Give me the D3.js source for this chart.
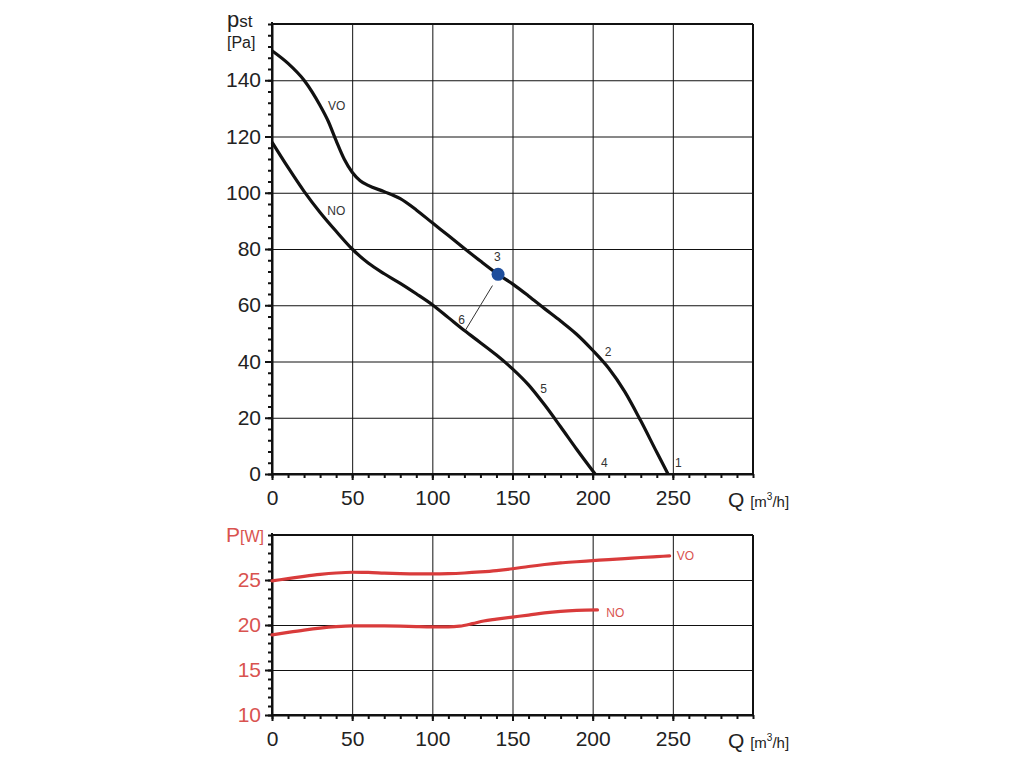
<!DOCTYPE html>
<html>
<head>
<meta charset="utf-8">
<script src="https://cdn.jsdelivr.net/npm/d3@7"></script>
<style>
  body { margin: 0; background: #fff; }
  svg { font-family: "Liberation Sans", Arial, sans-serif; }
  .grid line { stroke: #111; stroke-width: 1; }
  .grid path { display: none; }
  .axis path, .axis line { stroke: #111; stroke-width: 2; }
  .axis text { fill: #222; font-size: 21px; }
  .red text { fill: #d9534f; }
  .curve { fill: none; stroke: #111; stroke-width: 3.2; }
  .power { fill: none; stroke: #d93b3b; stroke-width: 3.2; stroke-linecap: round; }
  .lbl { font-size: 12px; fill: #333; }
</style>
</head>
<body>
<div id="chart"></div>
<script>
// pressure curves (Q in m3/h, p in Pa)
var voQ = [0, 10, 20, 30, 35, 40, 45, 50, 55, 60, 70, 80, 90, 100, 110, 120, 130, 140, 150, 160, 170, 180, 190, 200, 210, 220, 230, 240, 247];
var voP = [150.5, 146, 140, 131, 125.5, 118.5, 112, 107.3, 104.3, 102.6, 100.4, 97.9, 93.9, 89.3, 84.8, 80.2, 75.7, 71.4, 67.6, 63.3, 58.8, 54.4, 49.7, 44, 37.6, 29.3, 18.9, 7.7, 0];
var noQ = [0, 10, 20, 30, 40, 50, 60, 70, 80, 90, 100, 110, 120, 130, 140, 150, 160, 170, 180, 190, 201.5];
var noP = [118, 109, 100.5, 93, 86.3, 80, 75, 71.2, 67.8, 64.1, 60.2, 55.6, 51, 46.7, 42.3, 37.4, 31.7, 24.6, 16.8, 8.8, 0];

// power curves (P in W)
var voPwQ = [0, 10, 20, 30, 40, 50, 60, 70, 80, 90, 100, 110, 120, 130, 140, 150, 160, 170, 180, 190, 200, 210, 220, 230, 240, 248];
var voPw = [24.9, 25.15, 25.4, 25.62, 25.78, 25.86, 25.85, 25.76, 25.7, 25.67, 25.67, 25.7, 25.78, 25.9, 26.05, 26.25, 26.5, 26.72, 26.9, 27.03, 27.15, 27.27, 27.38, 27.5, 27.6, 27.68];
var noPwQ = [0, 10, 20, 30, 40, 50, 60, 70, 80, 90, 100, 110, 117, 125, 132, 140, 150, 160, 170, 180, 190, 203];
var noPw = [18.9, 19.18, 19.44, 19.66, 19.82, 19.9, 19.9, 19.9, 19.88, 19.83, 19.8, 19.8, 19.87, 20.15, 20.45, 20.65, 20.88, 21.1, 21.35, 21.52, 21.62, 21.67];

// operating points
var pointNames = ["1", "2", "3", "4", "5"];
var pointQ = [247, 200, 141, 201.5, 161];
var pointP = [0, 44, 71, 0, 31];

// line 6 (between point 3 and the NO curve)
var line6Q = [137.5, 120.5];
var line6P = [67, 51];

var qTicks = [0, 50, 100, 150, 200, 250];
var pTicks = [0, 20, 40, 60, 80, 100, 120, 140];
var wTicks = [10, 15, 20, 25];

var width = 1024, height = 768;
var svg = d3.select("#chart").append("svg")
    .attr("width", width).attr("height", height);

var left = 272, right = 753;
var x = d3.scaleLinear().domain([0, 300]).range([left, right]);
var y = d3.scaleLinear().domain([0, 160]).range([474, 24]);
var y2 = d3.scaleLinear().domain([10, 30]).range([715, 535]);

function zip(qs, vs) {
  return qs.map(function(q, i) { return [q, vs[i]]; });
}

function drawFrame(ys, yTicks, minorStep, red) {
  var d = ys.domain();
  var top = ys.range()[1], bottom = ys.range()[0];

  // grid
  svg.append("g").attr("class", "grid")
    .attr("transform", "translate(0," + bottom + ")")
    .call(d3.axisBottom(x).tickValues([50, 100, 150, 200, 250])
      .tickSize(-(bottom - top)).tickFormat(""));
  svg.append("g").attr("class", "grid")
    .attr("transform", "translate(" + left + ",0)")
    .call(d3.axisLeft(ys).tickValues(yTicks.slice(1))
      .tickSize(-(right - left)).tickFormat(""));

  // top and right border
  svg.append("line")
    .attr("x1", left).attr("x2", right).attr("y1", top).attr("y2", top)
    .style("stroke", "#111").style("stroke-width", 2);
  svg.append("line")
    .attr("x1", right).attr("x2", right).attr("y1", top).attr("y2", bottom)
    .style("stroke", "#111").style("stroke-width", 2);

  // minor ticks
  svg.append("g").attr("class", "axis")
    .attr("transform", "translate(" + left + ",0)")
    .call(d3.axisLeft(ys).tickValues(d3.range(d[0], d[1] + 0.01, minorStep))
      .tickSize(4).tickSizeOuter(0).tickFormat(""));
  svg.append("g").attr("class", "axis")
    .attr("transform", "translate(0," + bottom + ")")
    .call(d3.axisBottom(x).tickValues(d3.range(0, 301, 10))
      .tickSize(4).tickSizeOuter(0).tickFormat(""));

  // major ticks + labels
  var ya = svg.append("g").attr("class", "axis" + (red ? " red" : ""))
    .attr("transform", "translate(" + left + ",0)")
    .call(d3.axisLeft(ys).tickValues(yTicks).tickSize(7).tickPadding(4)
      .tickSizeOuter(0));
  ya.select(".domain").remove();
  var xa = svg.append("g").attr("class", "axis")
    .attr("transform", "translate(0," + bottom + ")")
    .call(d3.axisBottom(x).tickValues(qTicks).tickSize(6).tickPadding(10)
      .tickSizeOuter(0));
  xa.select(".domain").remove();

  // axis lines
  svg.append("line")
    .attr("x1", left).attr("x2", left).attr("y1", top - 2).attr("y2", bottom)
    .style("stroke", "#111").style("stroke-width", 2);
  svg.append("line")
    .attr("x1", left).attr("x2", right).attr("y1", bottom).attr("y2", bottom)
    .style("stroke", "#111").style("stroke-width", 2);

  // Q label
  var qt = svg.append("text")
    .attr("x", 728).attr("y", bottom + 33)
    .style("fill", "#222");
  qt.append("tspan").style("font-size", "21px").text("Q ");
  qt.append("tspan").style("font-size", "15px").text("[m");
  qt.append("tspan").style("font-size", "10px").attr("dy", -7).text("3");
  qt.append("tspan").style("font-size", "15px").attr("dy", 7).text("/h]");
}

drawFrame(y, pTicks, 4, false);
drawFrame(y2, wTicks, 1, true);

// pressure axis title
var pt = svg.append("text").attr("x", 227).attr("y", 27).style("fill", "#222");
pt.append("tspan").style("font-size", "22px").text("p");
pt.append("tspan").style("font-size", "17px").text("st");
svg.append("text").attr("x", 227).attr("y", 48)
  .style("font-size", "16px").style("fill", "#222").text("[Pa]");

// power axis title
var wt = svg.append("text").attr("x", 226).attr("y", 542).style("fill", "#d9534f");
wt.append("tspan").style("font-size", "21px").text("P");
wt.append("tspan").style("font-size", "16px").text("[W]");

var line = d3.line()
  .x(function(d) { return x(d[0]); })
  .y(function(d) { return y(d[1]); })
  .curve(d3.curveMonotoneX);
var line2 = d3.line()
  .x(function(d) { return x(d[0]); })
  .y(function(d) { return y2(d[1]); })
  .curve(d3.curveMonotoneX);

svg.append("path").attr("class", "curve").attr("d", line(zip(voQ, voP)));
svg.append("path").attr("class", "curve").attr("d", line(zip(noQ, noP)));
svg.append("path").attr("class", "power").attr("d", line2(zip(voPwQ, voPw)));
svg.append("path").attr("class", "power").attr("d", line2(zip(noPwQ, noPw)));

// line 6
svg.append("line")
  .attr("x1", x(line6Q[0])).attr("y1", y(line6P[0]))
  .attr("x2", x(line6Q[1])).attr("y2", y(line6P[1]))
  .style("stroke", "#333").style("stroke-width", 1);

// point 3 marker
svg.append("circle")
  .attr("cx", x(pointQ[2])).attr("cy", y(pointP[2])).attr("r", 6.5)
  .style("fill", "#1f4e9c");

// point labels
var offsets = [[7, -7], [12, 6], [-4, -13], [6, -7], [10, 6]];
pointNames.forEach(function(n, i) {
  var tx = x(pointQ[i]) + offsets[i][0];
  var ty = y(pointP[i]) + offsets[i][1];
  if (n === "3") {
    svg.append("rect").attr("x", tx - 2).attr("y", ty - 10)
      .attr("width", 11).attr("height", 13).style("fill", "#fff");
  }
  svg.append("text").attr("class", "lbl").attr("x", tx).attr("y", ty).text(n);
});
svg.append("text").attr("class", "lbl")
  .attr("x", x(line6Q[1]) - 7).attr("y", y(line6P[1]) - 7).text("6");

// curve names
svg.append("text").attr("class", "lbl").attr("x", x(35)).attr("y", y(129.5)).text("VO");
svg.append("text").attr("class", "lbl").attr("x", x(34.5)).attr("y", y(92)).text("NO");
svg.append("text").attr("class", "lbl").style("fill", "#d9534f")
  .attr("x", x(252.5)).attr("y", y2(27.2)).text("VO");
svg.append("text").attr("class", "lbl").style("fill", "#d9534f")
  .attr("x", x(208.5)).attr("y", y2(20.9)).text("NO");
</script>
</body>
</html>
